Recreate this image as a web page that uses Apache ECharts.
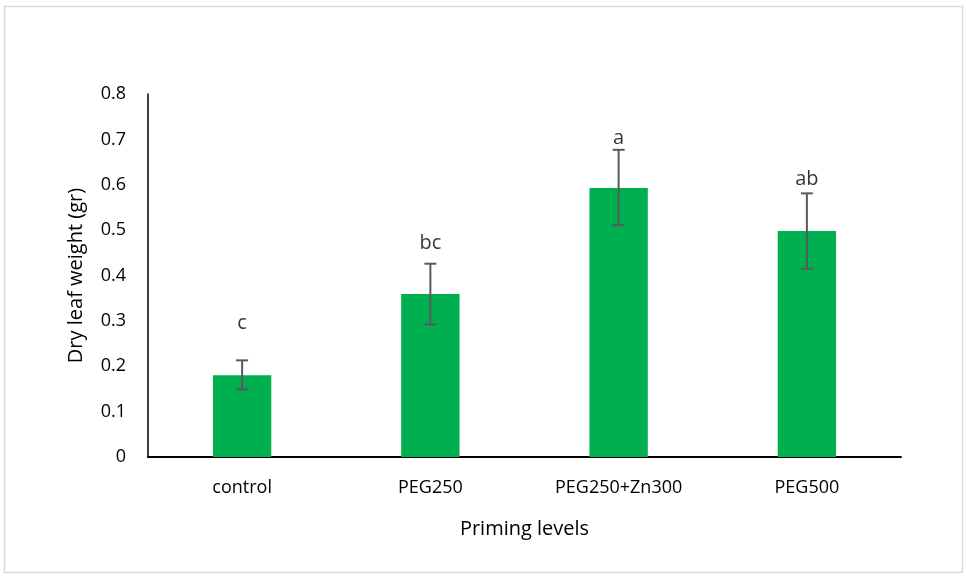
<!DOCTYPE html>
<html>
<head>
<meta charset="utf-8">
<script src="https://cdn.jsdelivr.net/npm/echarts@6/dist/echarts.min.js"></script>
<style>
    html, body { margin: 0; padding: 0; background: #fff; }
    #chart { width: 966px; height: 577px; }
</style>
</head>
<body>
<div id="chart"></div>
<script>
// data
const categories = ['control', 'PEG250', 'PEG250+Zn300', 'PEG500'];
const meanWeight = [0.18, 0.359, 0.593, 0.498];
const errLow = [0.149, 0.292, 0.511, 0.415];
const errHigh = [0.213, 0.426, 0.677, 0.581];
const letters = ['c', 'bc', 'a', 'ab'];
const letterHeight = [0.295, 0.472, 0.703, 0.613];
const yTicks = [0, 0.1, 0.2, 0.3, 0.4, 0.5, 0.6, 0.7, 0.8];

var chart = echarts.init(document.getElementById('chart'));

let errorData = categories.map((c, i) => [i, errLow[i], errHigh[i]]);
let letterData = categories.map((c, i) => ({value: [i, letterHeight[i]], label: {formatter: letters[i]}}));

let option = {
    animation: false,
    textStyle: {fontFamily: 'Open Sans'},
    graphic: [
        {
            type: 'rect',
            shape: {x: 4.5, y: 6.5, width: 958, height: 566},
            style: {fill: 'none', stroke: '#d9d9d9', lineWidth: 1.5},
            silent: true
        }
    ],
    grid: {left: 148, right: 65, top: 94, bottom: 120},
    xAxis: {
        type: 'category',
        data: categories,
        name: 'Priming levels',
        nameLocation: 'middle',
        nameGap: 62,
        nameTextStyle: {fontSize: 20, color: '#000'},
        axisLine: {lineStyle: {color: '#000', width: 2}},
        axisTick: {show: false},
        axisLabel: {color: '#000', fontSize: 18, margin: 22}
    },
    yAxis: {
        type: 'value',
        min: 0,
        max: 0.8,
        interval: 0.1,
        name: 'Dry leaf weight (gr)',
        nameLocation: 'middle',
        nameGap: 62,
        nameTextStyle: {fontSize: 20, color: '#000'},
        axisLine: {show: true, lineStyle: {color: '#000', width: 1.5}},
        axisTick: {show: false},
        splitLine: {show: false},
        axisLabel: {
            color: '#000',
            fontSize: 18,
            margin: 22,
            formatter: (v) => {
                let t = yTicks.find(x => Math.abs(x - v) < 1e-6);
                return t === 0 ? '0' : t.toFixed(1);
            }
        }
    },
    series: [
        {
            type: 'bar',
            data: meanWeight,
            barWidth: '31%',
            itemStyle: {color: '#00b050'}
        },
        {
            type: 'custom',
            data: errorData,
            z: 5,
            renderItem: function (params, api) {
                let x = api.coord([api.value(0), 0])[0];
                let lo = api.coord([api.value(0), api.value(1)])[1];
                let hi = api.coord([api.value(0), api.value(2)])[1];
                let cap = 6;
                let style = {stroke: '#595959', lineWidth: 2};
                return {
                    type: 'group',
                    children: [
                        {type: 'line', shape: {x1: x, y1: lo, x2: x, y2: hi}, style: style},
                        {type: 'line', shape: {x1: x - cap, y1: hi, x2: x + cap, y2: hi}, style: style},
                        {type: 'line', shape: {x1: x - cap, y1: lo, x2: x + cap, y2: lo}, style: style}
                    ]
                };
            }
        },
        {
            type: 'scatter',
            data: letterData,
            symbolSize: 0,
            label: {
                show: true,
                position: 'inside',
                color: '#000',
                fontSize: 20
            }
        }
    ]
};

chart.setOption(option);
</script>
</body>
</html>
